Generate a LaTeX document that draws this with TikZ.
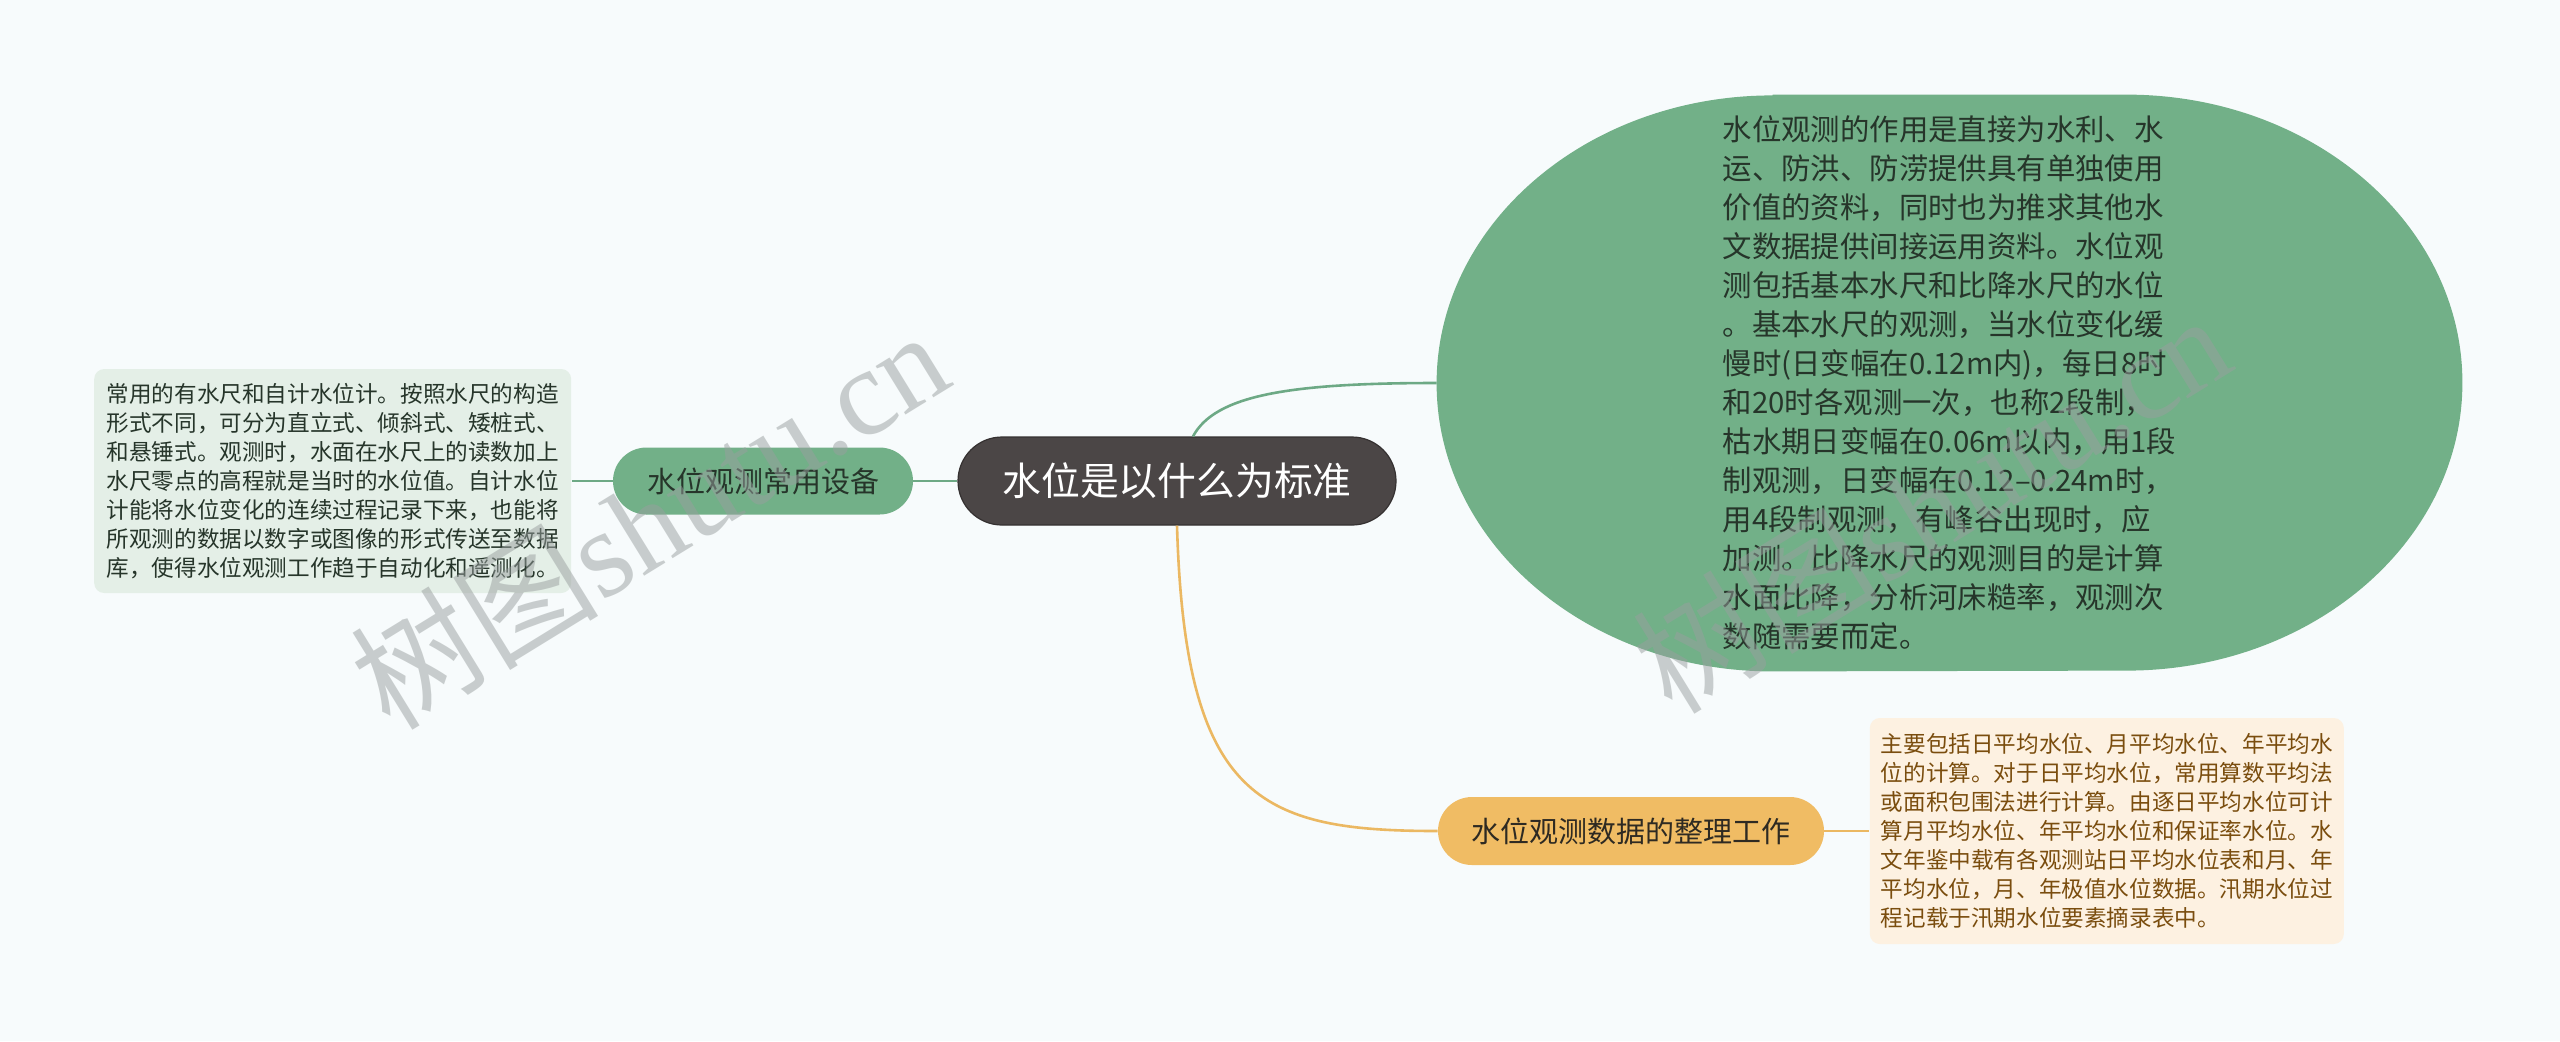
\documentclass[tikz,border=0pt]{standalone}
\usepackage{fontspec}
\newfontfamily\cjk{Noto Sans CJK SC}
\newfontfamily\wmfont{Liberation Serif}
\usetikzlibrary{positioning,backgrounds}

\definecolor{pagebg}{HTML}{F7FBFC}
\definecolor{rootfill}{HTML}{4B4646}
\definecolor{greenfill}{HTML}{72B088}
\definecolor{greenline}{HTML}{6DA985}
\definecolor{greennote}{HTML}{E4EFE7}
\definecolor{greentext}{HTML}{26352A}
\definecolor{orangefill}{HTML}{F0BC64}
\definecolor{orangeline}{HTML}{EBB862}
\definecolor{orangenote}{HTML}{FDF1E1}
\definecolor{orangetext}{HTML}{7A4D0E}
\definecolor{darktext}{HTML}{2E2A22}
\definecolor{wmgray}{HTML}{999F9F}

\begin{document}
\begin{tikzpicture}[x=0.5pt,y=-0.5pt,
    topic/.style={rounded corners=22pt, fill=rootfill, draw=rootfill!70!black, line width=0.6pt,
        text=white, font=\cjk\fontsize{19.4}{23}\selectfont,
        minimum width=219pt, minimum height=44pt, inner sep=0pt},
    branch/.style={rounded corners=16.75pt, minimum height=33.5pt, inner sep=0pt,
        font=\cjk\fontsize{14.5}{17}\selectfont},
    note/.style={rounded corners=5pt, align=left, inner sep=0pt,
        font=\cjk\fontsize{11.3}{14.5}\selectfont},
    gline/.style={draw=greenline, line width=1.3pt},
    oline/.style={draw=orangeline, line width=1.3pt},
    watermark/.style={text=wmgray, opacity=0.5, rotate=31.6, inner sep=0pt,
        font=\wmfont\fontsize{62}{62}\selectfont}]
    \useasboundingbox (0,0) rectangle (2560,1041);

    \node[topic] (root) at (1177,481) {水位是以什么为标准};

    % left branch
    \node[branch, fill=greenfill, text=greentext, minimum width=150pt,
        left=22pt of root] (equip) {水位观测常用设备};
    \node[note, fill=greennote, text=greentext, minimum width=238.5pt, minimum height=112pt,
        left=20.5pt of equip] (equipnote)
        {常用的有水尺和自计水位计。按照水尺的构造\\
         形式不同，可分为直立式、倾斜式、矮桩式、\\
         和悬锤式。观测时，水面在水尺上的读数加上\\
         水尺零点的高程就是当时的水位值。自计水位\\
         计能将水位变化的连续过程记录下来，也能将\\
         所观测的数据以数字或图像的形式传送至数据\\
         库，使得水位观测工作趋于自动化和遥测化。};

    % upper right
    \node[align=left, text=greentext, font=\cjk\fontsize{14.7}{19.5}\selectfont,
        minimum width=512.5pt, minimum height=288pt, inner sep=0pt] (detail) at (1949.5,383)
        {水位观测的作用是直接为水利、水\\
         运、防洪、防涝提供具有单独使用\\
         价值的资料，同时也为推求其他水\\
         文数据提供间接运用资料。水位观\\
         测包括基本水尺和比降水尺的水位\\
         。基本水尺的观测，当水位变化缓\\
         慢时(日变幅在0.12m内)，每日8时\\
         和20时各观测一次，也称2段制，\\
         枯水期日变幅在0.06m以内，用1段\\
         制观测，日变幅在0.12–0.24m时，\\
         用4段制观测，有峰谷出现时，应\\
         加测。比降水尺的观测目的是计算\\
         水面比降，分析河床糙率，观测次\\
         数随需要而定。};

    % lower right
    \node[branch, fill=orangefill, text=darktext, minimum width=193pt, minimum height=34pt,
        rounded corners=17pt] (tidy) at (1631,831) {水位观测数据的整理工作};
    \node[note, fill=orangenote, text=orangetext, minimum width=237pt, minimum height=113pt,
        right=22.5pt of tidy] (tidynote)
        {主要包括日平均水位、月平均水位、年平均水\\
         位的计算。对于日平均水位，常用算数平均法\\
         或面积包围法进行计算。由逐日平均水位可计\\
         算月平均水位、年平均水位和保证率水位。水\\
         文年鉴中载有各观测站日平均水位表和月、年\\
         平均水位，月、年极值水位数据。汛期水位过\\
         程记载于汛期水位要素摘录表中。};

    \begin{scope}[on background layer]
        \fill[pagebg] (0,0) rectangle (2560,1041);
        \fill[greenfill] ([xshift=168pt]detail.north west) -- ([xshift=-168pt]detail.north east)
            arc[start angle=90, end angle=-90, x radius=168pt, y radius=144pt]
            -- ([xshift=168pt]detail.south west)
            arc[start angle=270, end angle=90, x radius=168pt, y radius=144pt] -- cycle;
    \end{scope}

    \draw[gline] (root) -- (equip);
    \draw[gline] (equip) -- (equipnote);
    \draw[gline] ([xshift=8pt]root.north) .. controls (1215,395) and (1290,383) .. (detail.west);
    \draw[oline] (root.south) .. controls (1185,800) and (1260,831) .. (tidy.west);
    \draw[oline] (tidy) -- (tidynote);

    \node[watermark] (wmleft) at (649,518) {{\cjk 树图}shutu.cn};
    \node[watermark] (wmright) at (1931,502) {{\cjk 树图}shutu.cn};
\end{tikzpicture}
\end{document}
